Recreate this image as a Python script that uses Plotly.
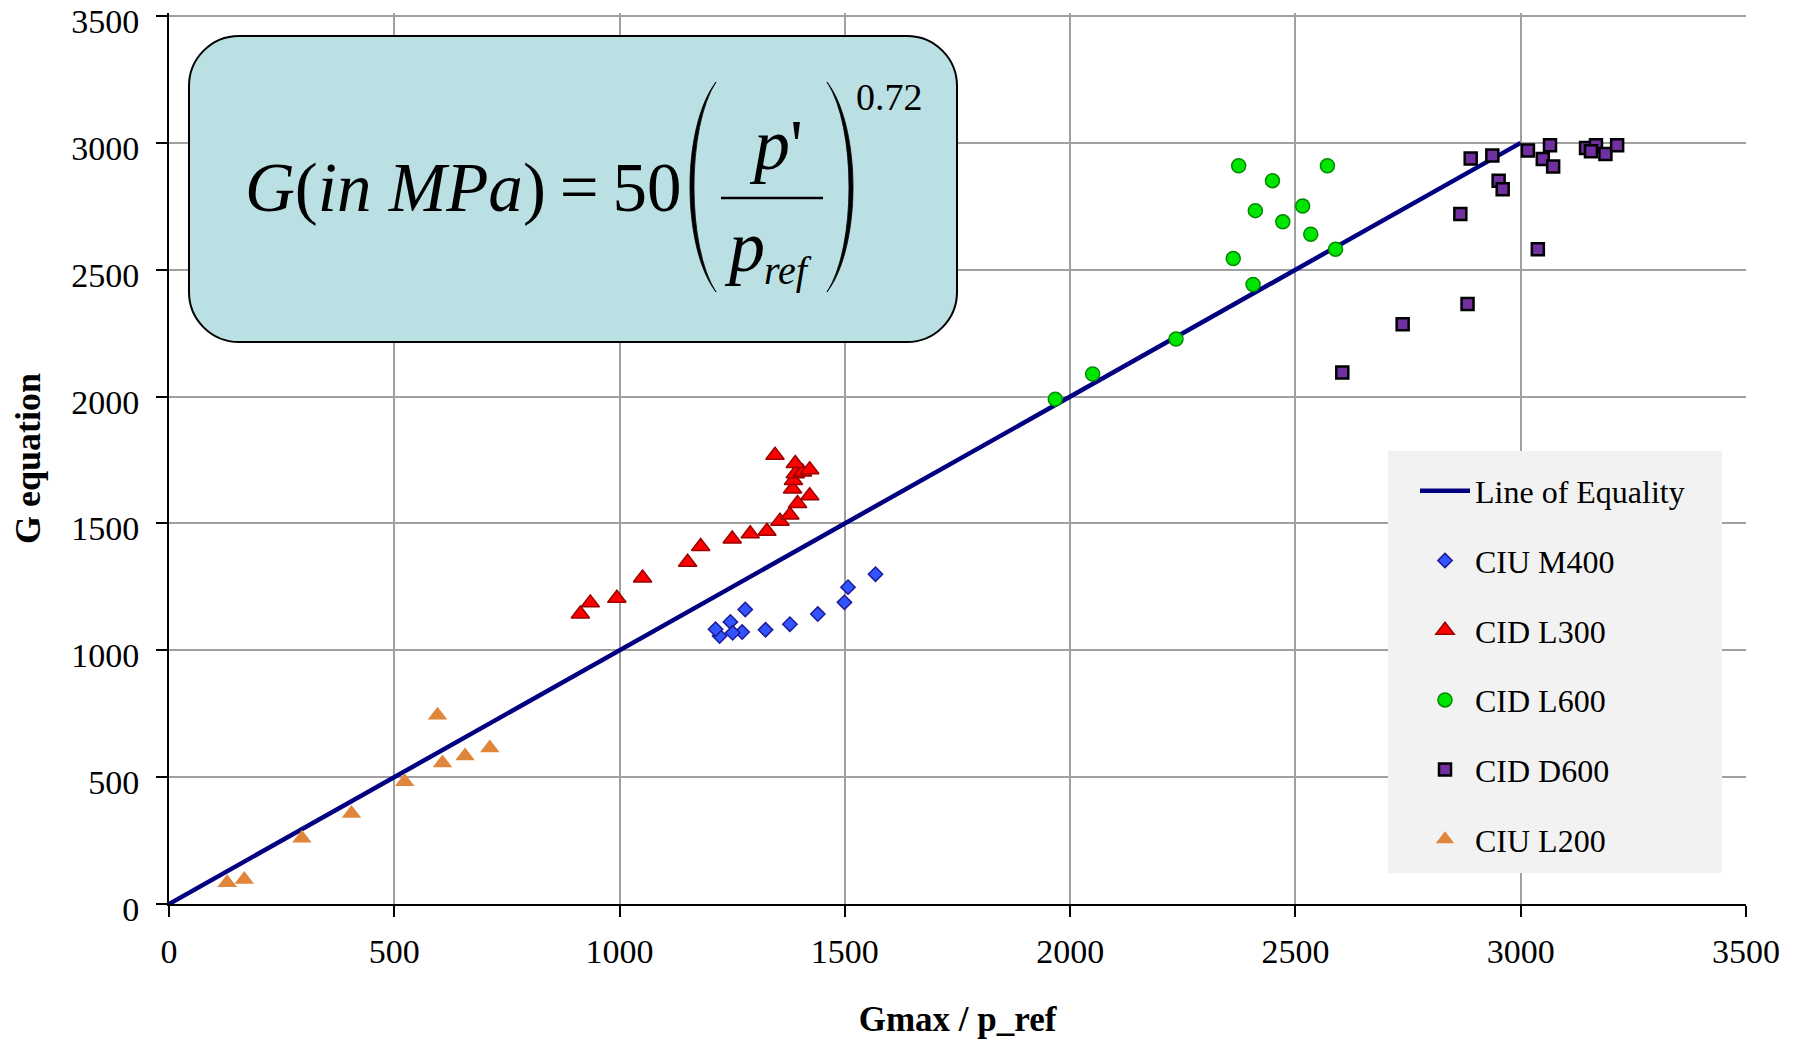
import plotly.graph_objects as go

# ---- data -------------------------------------------------------------
equality_x = [0, 3000]
equality_y = [0, 3000]

ciu_m400_x = [1568, 1507, 1499, 1440, 1378, 1324, 1279, 1272, 1246, 1222, 1213, 1251]
ciu_m400_y = [1300, 1249, 1189, 1143, 1103, 1081, 1161, 1072, 1112, 1056, 1083, 1069]

cid_l300_x = [913, 935, 994, 1051, 1151, 1180, 1250, 1290, 1327, 1356, 1378, 1395,
              1422, 1384, 1386, 1390, 1406, 1422, 1345, 1390]
cid_l300_y = [1143, 1187, 1205, 1285, 1347, 1409, 1439, 1459, 1469, 1509, 1533, 1579,
              1609, 1636, 1669, 1696, 1703, 1712, 1769, 1736]

cid_l600_x = [1967, 2050, 2235, 2374, 2449, 2571, 2411, 2516, 2472, 2534, 2589, 2362, 2406]
cid_l600_y = [1990, 2089, 2227, 2910, 2851, 2910, 2733, 2751, 2689, 2640, 2581, 2544, 2442]

cid_d600_x = [2889, 2937, 3016, 3065, 3049, 3072, 2951, 2960, 2866, 3038, 3145, 3167,
              3156, 3188, 3214, 2882, 2738, 2604]
cid_d600_y = [2938, 2950, 2970, 2991, 2937, 2907, 2851, 2817, 2720, 2581, 2980, 2991,
              2967, 2956, 2991, 2365, 2285, 2095]

ciu_l200_x = [129, 167, 295, 405, 523, 596, 607, 657, 712]
ciu_l200_y = [84, 97, 259, 357, 482, 744, 556, 583, 615]

axis_ticks = [0, 500, 1000, 1500, 2000, 2500, 3000, 3500]

# ---- page geometry ----------------------------------------------------
W, H = 1802, 1042
ML, MR, MT, MB = 169, 56, 13, 138
PW, PH = W - ML - MR, H - MT - MB
SERIF = "Liberation Serif"


def fx(px):
    """page pixel column -> paper x"""
    return (px - ML) / PW


def fy(py):
    """page pixel row -> paper y"""
    return (H - MB - py) / PH


def path_from(points_cmds):
    out = []
    for cmd, pts in points_cmds:
        coords = " ".join(f"{fx(x):.5f},{fy(y):.5f}" for x, y in pts)
        out.append(f"{cmd}{coords}")
    return " ".join(out) + " Z"


def rounded_rect(x0, y0, x1, y1, r):
    k = 0.5523 * r
    return path_from([
        ("M", [(x0 + r, y0)]),
        ("L", [(x1 - r, y0)]),
        ("C", [(x1 - r + k, y0), (x1, y0 + r - k), (x1, y0 + r)]),
        ("L", [(x1, y1 - r)]),
        ("C", [(x1, y1 - r + k), (x1 - r + k, y1), (x1 - r, y1)]),
        ("L", [(x0 + r, y1)]),
        ("C", [(x0 + r - k, y1), (x0, y1 - r + k), (x0, y1 - r)]),
        ("L", [(x0, y0 + r)]),
        ("C", [(x0, y0 + r - k), (x0 + r - k, y0), (x0 + r, y0)]),
    ])


def big_paren(x_end, x_far, y_top, y_bot, thick):
    # crescent shaped bracket, x_far is the extreme of the bulge
    c_out = (x_far - 0.25 * x_end) / 0.75
    c_in = (x_far + thick * (1 if x_far < x_end else -1) - 0.25 * x_end) / 0.75
    return path_from([
        ("M", [(x_end, y_top)]),
        ("C", [(c_out, y_top + 45), (c_out, y_bot - 45), (x_end, y_bot)]),
        ("C", [(c_in, y_bot - 45), (c_in, y_top + 45), (x_end, y_top)]),
    ])


fig = go.Figure()

fig.add_trace(go.Scatter(
    x=equality_x, y=equality_y, mode="lines", name="Line of Equality",
    legendgroup="g0", line=dict(color="#000080", width=4.5)))

fig.add_trace(go.Scatter(
    x=ciu_m400_x, y=ciu_m400_y, mode="markers", name="CIU M400", legendgroup="g1",
    marker=dict(symbol="diamond", size=11, color="#3355ff",
                line=dict(color="#1a1a9a", width=1.5))))

fig.add_trace(go.Scatter(
    x=cid_l300_x, y=cid_l300_y, mode="markers", name="CID L300", legendgroup="g2",
    marker=dict(symbol="triangle-up", size=16, color="#ff0000",
                line=dict(color="#990000", width=1.5))))

fig.add_trace(go.Scatter(
    x=cid_l600_x, y=cid_l600_y, mode="markers", name="CID L600", legendgroup="g3",
    marker=dict(symbol="circle", size=14, color="#00e600",
                line=dict(color="#008a00", width=1.5))))

fig.add_trace(go.Scatter(
    x=cid_d600_x, y=cid_d600_y, mode="markers", name="CID D600", legendgroup="g4",
    marker=dict(symbol="square", size=12, color="#7030a0",
                line=dict(color="#000000", width=2.5))))

fig.add_trace(go.Scatter(
    x=ciu_l200_x, y=ciu_l200_y, mode="markers", name="CIU L200", legendgroup="g5",
    marker=dict(symbol="triangle-up", size=17, color="#e0863c",
                line=dict(color="#e0863c", width=0))))

axis_common = dict(
    tickvals=axis_ticks, ticktext=[str(v) for v in axis_ticks],
    showgrid=True, gridcolor="#a0a0a0", gridwidth=1.6,
    showline=True, linecolor="#000000", linewidth=2,
    ticks="outside", ticklen=11, tickwidth=2, tickcolor="#000000",
    zeroline=False, ticklabeloverflow="allow", automargin=False,
    tickfont=dict(family=SERIF, size=34, color="#000000"),
)

fig.update_xaxes(**axis_common, range=[-0.01, 3500.01], ticklabelstandoff=5,
                 title=dict(text="<b>Gmax / p_ref</b>", standoff=38,
                            font=dict(family=SERIF, size=35, color="#000000")))
# a little headroom above 3500 keeps the top grid line visible
fig.update_yaxes(**axis_common, range=[0, 3512], ticklabelstandoff=10,
                 ticklabelshift=5,
                 title=dict(text="<b>G equation</b>", standoff=20,
                            font=dict(family=SERIF, size=36, color="#000000")))

shapes = [
    # equation panel
    dict(type="path", xref="paper", yref="paper", layer="above",
         path=rounded_rect(189, 36, 957, 342, 50),
         fillcolor="#bbe0e3", line=dict(color="#000000", width=2)),
    # stretched brackets round the fraction
    dict(type="path", xref="paper", yref="paper", layer="above",
         path=big_paren(716, 690, 82, 292, 4),
         fillcolor="#000000", line=dict(color="#000000", width=0.8)),
    dict(type="path", xref="paper", yref="paper", layer="above",
         path=big_paren(827, 853, 82, 292, 4),
         fillcolor="#000000", line=dict(color="#000000", width=0.8)),
    # fraction bar
    dict(type="line", xref="paper", yref="paper", layer="above",
         x0=fx(721), x1=fx(823), y0=fy(198), y1=fy(198),
         line=dict(color="#000000", width=2.5)),
    # legend panel
    dict(type="rect", xref="paper", yref="paper", layer="above",
         x0=fx(1388), x1=fx(1722), y0=fy(873), y1=fy(451),
         fillcolor="#f2f2f2", line=dict(width=0)),
]


def note(text, px, py, size, anchor="left"):
    return dict(text=text, xref="paper", yref="paper", x=fx(px), y=fy(py),
                xanchor=anchor, yanchor="middle", showarrow=False,
                font=dict(family=SERIF, size=size, color="#000000"))


annotations = [
    note("<i>G</i>(<i>in MPa</i>)\u2009=\u200950", 243, 188, 69),
    note("<i>p</i>'", 776, 145, 72, "center"),
    note("<i>p</i>", 722, 247, 72),
    note("<i>ref</i>", 762, 270, 40),
    note("0.72", 854, 97, 38),
]

fig.update_layout(
    width=W, height=H,
    margin=dict(l=ML, r=MR, t=MT, b=MB, pad=0, autoexpand=False),
    paper_bgcolor="#ffffff", plot_bgcolor="#ffffff",
    font=dict(family=SERIF, color="#000000"),
    shapes=shapes, annotations=annotations,
    legend=dict(x=fx(1415), y=fy(463.5), xanchor="left", yanchor="top",
                bgcolor="rgba(0,0,0,0)", borderwidth=0,
                font=dict(family=SERIF, size=32, color="#000000"),
                tracegroupgap=25.1, itemwidth=50),
    showlegend=True,
)

fig.write_html("out.html")
